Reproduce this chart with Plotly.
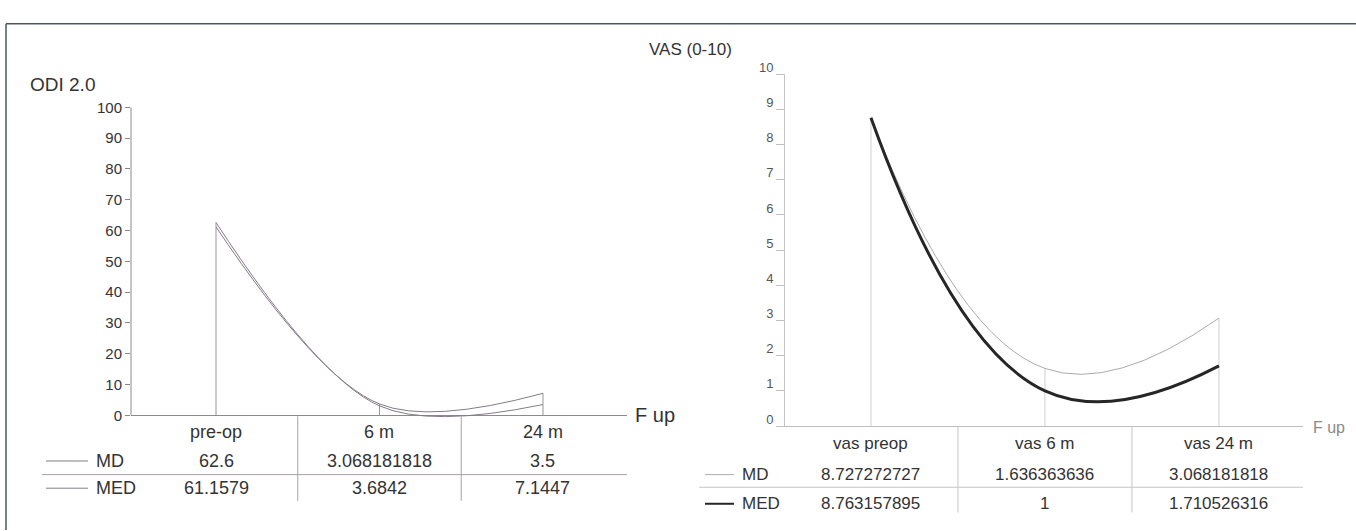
import plotly.graph_objects as go

W, H = 1356, 531

# ---------------- data ----------------
odi_categories = ["pre-op", "6 m", "24 m"]
odi_md = [62.6, 3.068181818, 3.5]
odi_med = [61.1579, 3.6842, 7.1447]
odi_ticks = list(range(0, 101, 10))

vas_categories = ["vas preop", "vas 6 m", "vas 24 m"]
vas_md = [8.727272727, 1.636363636, 3.068181818]
vas_med = [8.763157895, 1, 1.710526316]
vas_ticks = list(range(0, 11))

series_names = ["MD", "MED"]

FONT = "Liberation Sans, Arial, sans-serif"


def px(x):
    return min(1.0, max(0.0, x / W))


def py(y):
    return min(1.0, max(0.0, 1 - y / H))


fig = go.Figure()

# ---------------- styles ----------------
odi_styles = [dict(color="#857a88", width=1), dict(color="#857a88", width=1)]
vas_styles = [dict(color="#ababab", width=1), dict(color="#262626", width=3)]


def add_panel(cats, series, styles, xa, ya, drop_color, smooth):
    xs = list(range(len(cats)))
    dx, dy = [], []
    for i in xs:
        top = max(s[i] for s in series)
        dx += [i, i, None]
        dy += [0, top, None]
    fig.add_trace(go.Scatter(x=dx, y=dy, mode="lines", xaxis=xa, yaxis=ya,
                             line=dict(color=drop_color, width=1),
                             hoverinfo="skip", showlegend=False))
    for name, s, st in zip(series_names, series, styles):
        fig.add_trace(go.Scatter(x=xs, y=s, name=name, mode="lines", xaxis=xa, yaxis=ya,
                                 line=dict(shape="spline", smoothing=smooth, **st),
                                 hoverinfo="skip", showlegend=False))


add_panel(odi_categories, [odi_md, odi_med], odi_styles, "x", "y", "#9a929e", 1.0)
add_panel(vas_categories, [vas_md, vas_med], vas_styles, "x2", "y2", "#cfcfcf", 1.3)

fig.update_layout(
    width=W, height=H, autosize=False,
    margin=dict(l=0, r=0, t=0, b=0),
    paper_bgcolor="white", plot_bgcolor="rgba(0,0,0,0)",
    font=dict(family=FONT, color="#333"),
    showlegend=False,
    xaxis=dict(domain=[px(131), px(627)], range=[-0.52, 2.514], visible=False, anchor="y"),
    yaxis=dict(domain=[py(422.5), py(96)], range=[-3, 100], tickvals=odi_ticks,
               ticks="outside", ticklen=5, tickcolor="#888", showgrid=False,
               zeroline=True, zerolinecolor="#8a8a8a", zerolinewidth=1,
               showline=False, tickfont=dict(size=15, color="#333", family=FONT),
               anchor="x"),
    xaxis2=dict(domain=[px(785), px(1303)], range=[-0.494, 2.483], anchor="y2",
                showticklabels=False, ticks="", showgrid=False, zeroline=False,
                showline=True, linecolor="#bdbdbd", linewidth=1),
    yaxis2=dict(domain=[py(424), py(62)], range=[0, 10], tickvals=vas_ticks, anchor="x2",
                ticks="outside", ticklen=8, tickcolor="#c0c0c0", showgrid=False,
                zeroline=False, showline=True, linecolor="#c4c4c4", linewidth=1,
                tickfont=dict(size=13, color="#555", family=FONT), ticklabelshift=-7),
)

shapes = []
shapes.append(dict(type="line", xref="x domain", yref="y", x0=0, x1=0, y0=0, y1=100,
                   line=dict(color="#8a8a8a", width=1)))

# outer frame
shapes.append(dict(type="line", xref="paper", yref="paper", x0=px(6), x1=1, y0=py(10), y1=py(10),
                   line=dict(color="#4d5566", width=1.5)))
shapes.append(dict(type="line", xref="paper", yref="paper", x0=px(6), x1=px(6),
                   y0=py(10), y1=0, line=dict(color="#4d5566", width=1.5)))

annotations = []


def table(cats, series, styles, xa, rows_y, sep_y, sep_x0, sep_x1, vline_top, vline_bot,
          key_x0, key_x1, name_x, size, color, line_color):
    for i, c in enumerate(cats):
        annotations.append(dict(text=c, x=i, xref=xa, y=py(rows_y[0]), yref="paper",
                                showarrow=False, xanchor="center", yanchor="middle",
                                font=dict(size=size, color=color, family=FONT)))
    for r, (name, s, st) in enumerate(zip(series_names, series, styles)):
        yy = py(rows_y[r + 1])
        for i, v in enumerate(s):
            annotations.append(dict(text=f"{v:.10g}", x=i, xref=xa, y=yy, yref="paper",
                                    showarrow=False, xanchor="center", yanchor="middle",
                                    font=dict(size=size, color=color, family=FONT)))
        annotations.append(dict(text=name, x=px(name_x), xref="paper", y=yy, yref="paper",
                                showarrow=False, xanchor="left", yanchor="middle",
                                font=dict(size=size, color=color, family=FONT)))
        kw = dict(st)
        kw["width"] = min(kw["width"], 2)
        shapes.append(dict(type="line", xref="paper", yref="paper", x0=px(key_x0), x1=px(key_x1),
                           y0=yy, y1=yy, line=kw))
    shapes.append(dict(type="line", xref="paper", yref="paper", x0=px(sep_x0), x1=px(sep_x1),
                       y0=py(sep_y), y1=py(sep_y), line=dict(color=line_color, width=1)))
    for i in range(len(cats) - 1):
        shapes.append(dict(type="line", xref=xa, yref="paper", x0=i + 0.5, x1=i + 0.5,
                           y0=py(vline_top), y1=py(vline_bot), line=dict(color=line_color, width=1)))


table(odi_categories, [odi_md, odi_med], odi_styles, "x", [430, 460, 488], 474, 42, 627, 414, 501,
      46, 88, 94, 18, "#333", "#a8a0ae")
table(vas_categories, [vas_md, vas_med], vas_styles, "x2", [442, 474, 504], 487, 699, 1303, 424, 513,
      705, 734, 740, 17, "#333", "#c4c4c4")

annotations.append(dict(text="ODI 2.0", x=px(28), y=py(73), xref="paper", yref="paper",
                        xanchor="left", yanchor="middle", showarrow=False,
                        font=dict(size=19, color="#333", family=FONT)))
annotations.append(dict(text="VAS (0-10)", x=px(690), y=py(37), xref="paper", yref="paper",
                        xanchor="center", yanchor="middle", showarrow=False,
                        font=dict(size=17, color="#333", family=FONT)))
annotations.append(dict(text="F up", x=px(633), y=py(413), xref="paper", yref="paper",
                        xanchor="left", yanchor="middle", showarrow=False,
                        font=dict(size=20, color="#333", family=FONT)))
annotations.append(dict(text="F up", x=px(1311), y=py(426), xref="paper", yref="paper",
                        xanchor="left", yanchor="middle", showarrow=False,
                        font=dict(size=16, color="#8a8a8a", family=FONT)))

fig.update_layout(shapes=shapes, annotations=annotations)

fig.write_html("out.html", config={"displayModeBar": False},
               post_script="document.body.style.margin='0';document.body.style.overflow='hidden';")
